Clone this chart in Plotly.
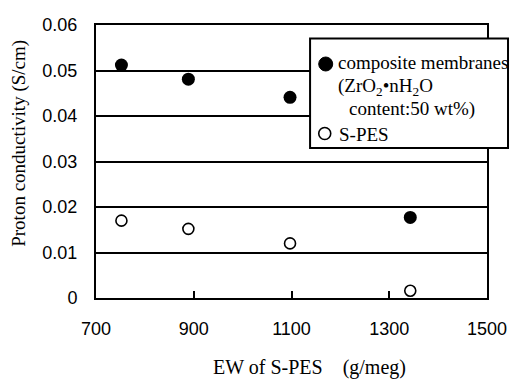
import plotly.graph_objects as go

# Data
ew = [752, 889, 1097, 1343]
composite = [0.0512, 0.0481, 0.0441, 0.0177]
spes = [0.0170, 0.0152, 0.0120, 0.0016]

x_ticks = [700, 900, 1100, 1300, 1500]
y_ticks = [0, 0.01, 0.02, 0.03, 0.04, 0.05, 0.06]
y_tick_text = ["0", "0.01", "0.02", "0.03", "0.04", "0.05", "0.06"]

W, H = 519, 381
L, R, T, B = 96, 496, 25, 298

def px(xp):
    return (xp - L) / (R - L)

def py(yp):
    return (B - yp) / (B - T)

serif = "Liberation Serif"
sans = "Liberation Sans"

fig = go.Figure()
fig.add_trace(go.Scatter(
    x=ew, y=composite, mode="markers", name="composite membranes",
    marker=dict(symbol="circle", size=13, color="black"),
    showlegend=False, cliponaxis=False))
fig.add_trace(go.Scatter(
    x=ew, y=spes, mode="markers", name="S-PES",
    marker=dict(symbol="circle-open", size=11, color="black", line=dict(width=1.6)),
    showlegend=False, cliponaxis=False))

fig.update_layout(
    width=W, height=H,
    margin=dict(l=L, r=W - R, t=T, b=H - B, pad=0),
    paper_bgcolor="white", plot_bgcolor="white",
    xaxis=dict(range=[700, 1500], tickvals=x_ticks, ticks="inside", ticklen=7,
               tickwidth=2, tickcolor="black", showgrid=False, zeroline=False,
               showline=True, linecolor="black", linewidth=2, mirror=True,
               tickfont=dict(family=sans, size=18, color="black"),
               ticklabelstandoff=13),
    yaxis=dict(range=[0, 0.06], tickvals=y_ticks, ticktext=y_tick_text, ticks="",
               showgrid=True, gridcolor="black", gridwidth=2, zeroline=False,
               showline=True, linecolor="black", linewidth=2, mirror=True,
               tickfont=dict(family=sans, size=18, color="black"),
               ticklabelstandoff=13),
)

# Axis titles
fig.add_annotation(text="Proton conductivity (S/cm)", xref="paper", yref="paper",
                   x=px(17), y=py(143), xanchor="center", yanchor="middle",
                   textangle=-90, showarrow=False,
                   font=dict(family=serif, size=19, color="black"))
fig.add_annotation(text="EW of S-PES&nbsp;&nbsp;&nbsp;&nbsp;(g/meg)", xref="paper", yref="paper",
                   x=px(314), y=py(367), xanchor="center", yanchor="middle",
                   showarrow=False, font=dict(family=serif, size=20, color="black"))

# Legend box
fig.add_shape(type="rect", xref="paper", yref="paper",
              x0=px(315), x1=px(517.5), y0=py(148), y1=py(38.5),
              line=dict(color="black", width=2), fillcolor="white", layer="above")
fig.add_shape(type="circle", xref="paper", yref="paper",
              xsizemode="pixel", ysizemode="pixel", xanchor=px(331), yanchor=py(64),
              x0=-7, x1=7, y0=-7, y1=7, fillcolor="black", line=dict(color="black", width=1),
              layer="above")
fig.add_shape(type="circle", xref="paper", yref="paper",
              xsizemode="pixel", ysizemode="pixel", xanchor=px(330), yanchor=py(133.5),
              x0=-6, x1=6, y0=-6, y1=6, fillcolor="white", line=dict(color="black", width=1.6),
              layer="above")

legend_lines = [
    ("composite membranes", 342, 63),
    ("(ZrO<sub>2</sub>•nH<sub>2</sub>O", 342, 87),
    ("content:50 wt%)", 353, 109),
    ("S-PES", 343, 134),
]
for txt, xp, yp in legend_lines:
    fig.add_annotation(text=txt, xref="paper", yref="paper", x=px(xp), y=py(yp),
                       xanchor="left", yanchor="middle", showarrow=False,
                       font=dict(family=serif, size=19, color="black"))

fig.write_html("out.html")
